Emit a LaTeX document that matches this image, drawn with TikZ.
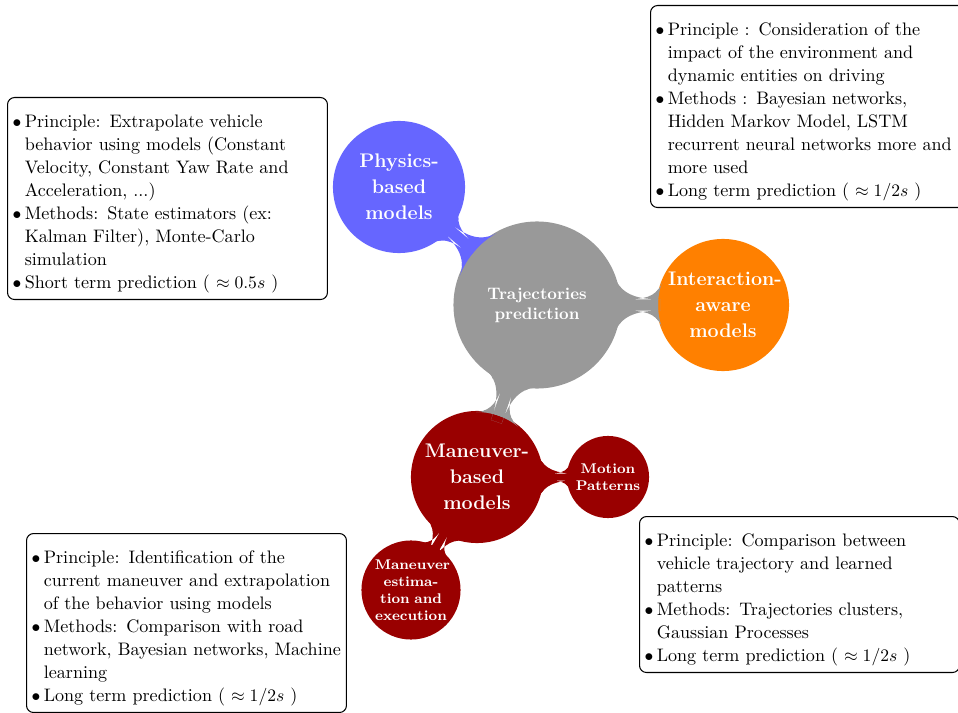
\documentclass[tikz,border=0pt]{standalone}
\usepackage{amsmath,amssymb}
\usepackage{tikz}
\usetikzlibrary{mindmap,positioning}

\newcommand{\boxfont}{\fontsize{10.3}{13.09}\selectfont}
\newcommand{\itm}{$\bullet$ &}

\begin{document}
\begin{tikzpicture}[
    x=0.02cm, y=-0.02cm,
    hub/.style={concept, concept color=black!40, fill=black!40, text=white, minimum size=3.3cm, text width=2.2cm, inner sep=-0.05cm, outer sep=0pt, align=center, font=\fontsize{9.5}{11.4}\selectfont\bfseries},
    branch/.style={concept, concept color=#1, fill=#1, text=white, minimum size=2.6cm, text width=2.2cm, inner sep=-0.06cm, outer sep=0pt, align=center, font=\fontsize{11.2}{14.8}\selectfont\bfseries},
    leaf/.style={concept, concept color=red!60!black, fill=red!60!black, text=white, minimum size=#1, text width=1.45cm, inner sep=-0.06cm, outer sep=0pt, align=center, font=\fontsize{8}{9.6}\selectfont\bfseries},
    infobox/.style={draw, rounded corners, line width=0.6pt, fill=white, anchor=north west, text width=6.2cm, inner xsep=0.1cm, inner ysep=0.02cm, align=left, font=\boxfont},
    link/.style={circle connection bar switch color=from (#1) to (#1)}
]
    \useasboundingbox (0,0) rectangle (958,713);
    \clip (0,0) rectangle (958,713);

    \begin{scope}[mindmap]
        \node[hub] (traj) at (537,305) {Trajectories\\prediction};
        \node[branch=blue!60] (phys) at (399,187) {\mbox{Physics-}\\based\\models};
        \node[branch=orange] (inter) at (723,305) {\mbox{Interaction-}\\aware\\models};
        \node[branch=red!60!black] (manv) at (477,477) {\mbox{Maneuver-}\\based\\models};
        \node[leaf=1.6cm] (motion) at (608,477) {Motion\\Patterns};
        \node[leaf=1.94cm] (estim) at (411,590) {Maneuver\\\mbox{estima-}\\tion and\\execution};

        \path (traj) to[link=blue!60] (phys);
        \path (traj) to[link=black!40] (inter);
        \path (traj) to[link=black!40] (manv);
        \path (manv) to[link=red!60!black] (motion);
        \path (manv) to[link=red!60!black] (estim);
    \end{scope}

    \node[infobox] (physinfo) at (7,97) {\begin{tabular}{@{}l@{\hspace{0.07cm}}l@{}}\noalign{\vskip 0.26cm}
        \itm Principle: Extrapolate vehicle\\
        & behavior using models (Constant\\
        & Velocity, Constant Yaw Rate and\\
        & Acceleration, ...)\\
        \itm Methods: State estimators (ex:\\
        & Kalman Filter), Monte-Carlo\\
        & simulation\\
        \itm Short term prediction ( $\approx 0.5s$ )\\ \noalign{\vskip 0.06cm}
    \end{tabular}};

    \node[infobox] (interinfo) at (650,5) {\begin{tabular}{@{}l@{\hspace{0.07cm}}l@{}}\noalign{\vskip 0.26cm}
        \itm Principle : Consideration of the\\
        & impact of the environment and\\
        & dynamic entities on driving\\
        \itm Methods : Bayesian networks,\\
        & Hidden Markov Model, LSTM\\
        & recurrent neural networks more and\\
        & more used\\
        \itm Long term prediction ( $\approx 1/2s$ )\\ \noalign{\vskip 0.06cm}
    \end{tabular}};

    \node[infobox] (manvinfo) at (26,533) {\begin{tabular}{@{}l@{\hspace{0.07cm}}l@{}}\noalign{\vskip 0.26cm}
        \itm Principle: Identification of the\\
        & current maneuver and extrapolation\\
        & of the behavior using models\\
        \itm Methods: Comparison with road\\
        & network, Bayesian networks, Machine\\
        & learning\\
        \itm Long term prediction ( $\approx 1/2s$ )\\ \noalign{\vskip 0.06cm}
    \end{tabular}};

    \node[infobox] (motioninfo) at (639,516) {\begin{tabular}{@{}l@{\hspace{0.07cm}}l@{}}\noalign{\vskip 0.26cm}
        \itm Principle: Comparison between\\
        & vehicle trajectory and learned\\
        & patterns\\
        \itm Methods: Trajectories clusters,\\
        & Gaussian Processes\\
        \itm Long term prediction ( $\approx 1/2s$ )\\ \noalign{\vskip 0.06cm}
    \end{tabular}};
\end{tikzpicture}
\end{document}
